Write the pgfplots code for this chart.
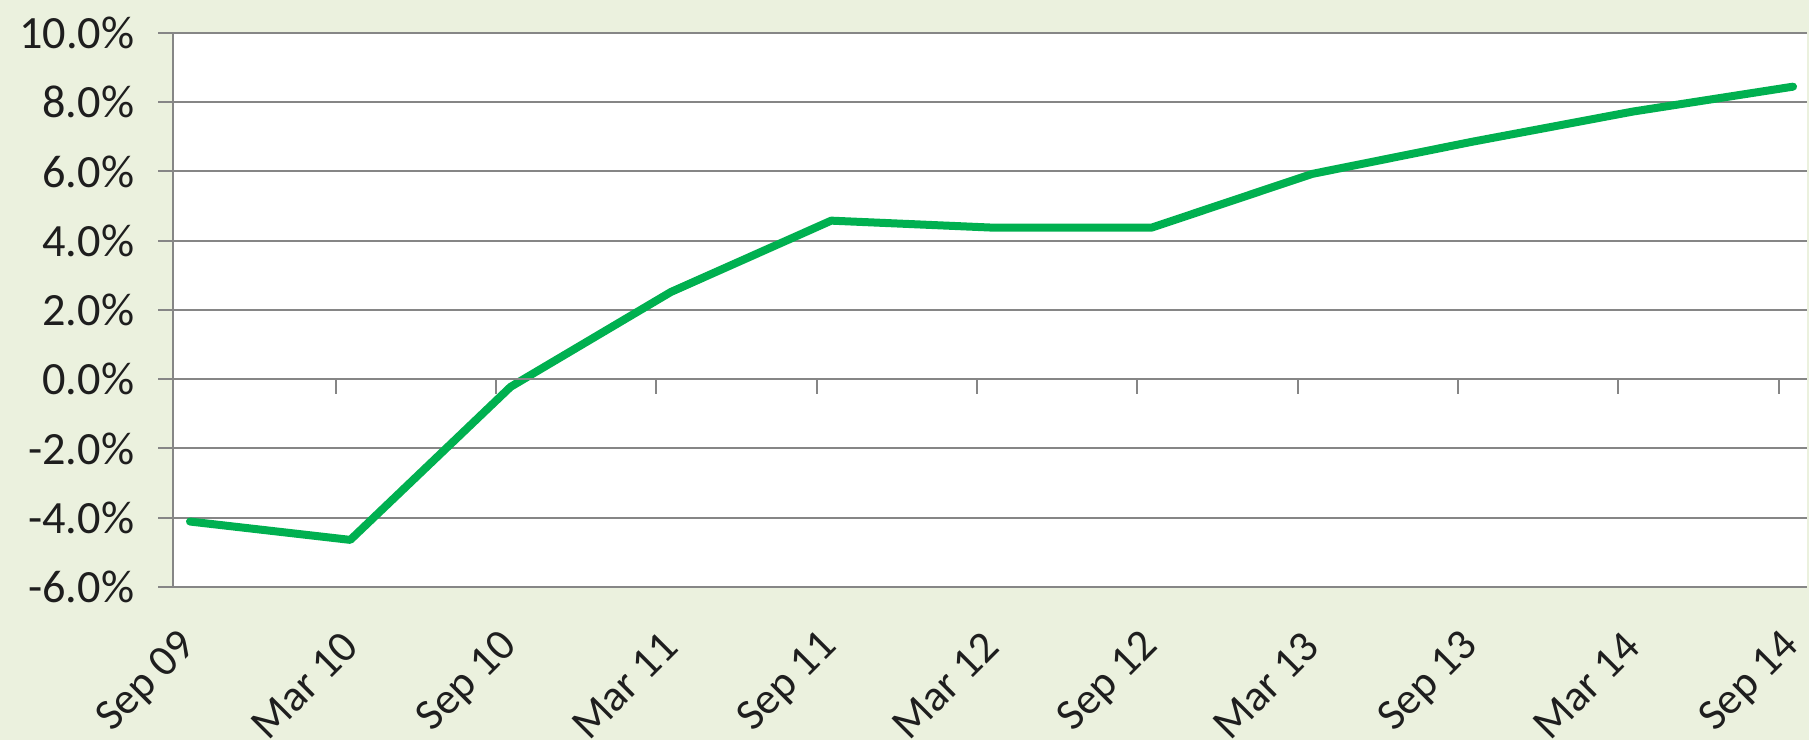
\documentclass[border=0pt]{standalone}
\usepackage{fontspec}
\setmainfont{Carlito}
\usepackage{pgfplots}
\pgfplotsset{compat=1.18}
\definecolor{bg}{RGB}{235,241,222}
\definecolor{gridc}{RGB}{134,134,134}
\definecolor{linegreen}{RGB}{0,176,80}
\definecolor{txt}{RGB}{30,30,30}
\begin{document}
\begin{tikzpicture}[x=1pt,y=1pt]
\path[use as bounding box, fill=bg] (0,0) rectangle (723.6,296);
\begin{axis}[
  at={(69.2pt,61.2pt)}, anchor=south west, scale only axis,
  width=653.6pt, height=221.6pt,
  xmin=-0.106, xmax=10.087, ymin=-6, ymax=10,
  axis background/.style={fill=white},
  axis lines*=left,
  axis line style={draw=gridc, line width=0.8pt, -},
  xtick={0,1,2,3,4,5,6,7,8,9,10},
  xticklabels={Sep 09, Mar 10, Sep 10, Mar 11, Sep 11, Mar 12, Sep 12, Mar 13, Sep 13, Mar 14, Sep 14},
  ytick={-6,-4,-2,0,2,4,6,8,10},
  yticklabels={-6.0\%,-4.0\%,-2.0\%,0.0\%,2.0\%,4.0\%,6.0\%,8.0\%,10.0\%},
  ymajorgrids, grid style={draw=gridc, line width=0.8pt},
  tick align=outside,
  major tick length=6pt,
  y tick style={draw=gridc, line width=0.8pt},
  x tick style={draw=none},
  yticklabel style={font=\fontsize{18.5}{22}\selectfont, text=txt, xshift=-6pt},
  xticklabel style={font=\fontsize{17.7}{21}\selectfont, text=txt, inner sep=0pt, xshift=0pt, yshift=-15pt, rotate=45, anchor=east},
  clip=false,
]
\addplot[color=linegreen, line width=3.2pt, line join=round, line cap=round] coordinates {
(0,-4.11) (1,-4.64) (2,-0.22) (3,2.52) (4,4.58) (5,4.38) (6,4.38) (7,5.93) (8,6.86) (9,7.73) (10,8.45)
};
\end{axis}
\begin{axis}[
  at={(69.2pt,61.2pt)}, anchor=south west, scale only axis,
  width=653.6pt, height=83.1pt,
  xmin=-0.106, xmax=10.087, ymin=-6, ymax=0,
  axis x line=top, hide y axis,
  axis line style={draw=gridc, line width=0.8pt, -},
  xtick={0.91,1.91,2.91,3.91,4.91,5.91,6.91,7.91,8.91,9.91},
  xticklabels={},
  tick align=inside,
  major tick length=6pt,
  x tick style={draw=gridc, line width=0.8pt},
]
\addplot[draw=none] coordinates {(0,-1)};
\end{axis}
\end{tikzpicture}
\end{document}
